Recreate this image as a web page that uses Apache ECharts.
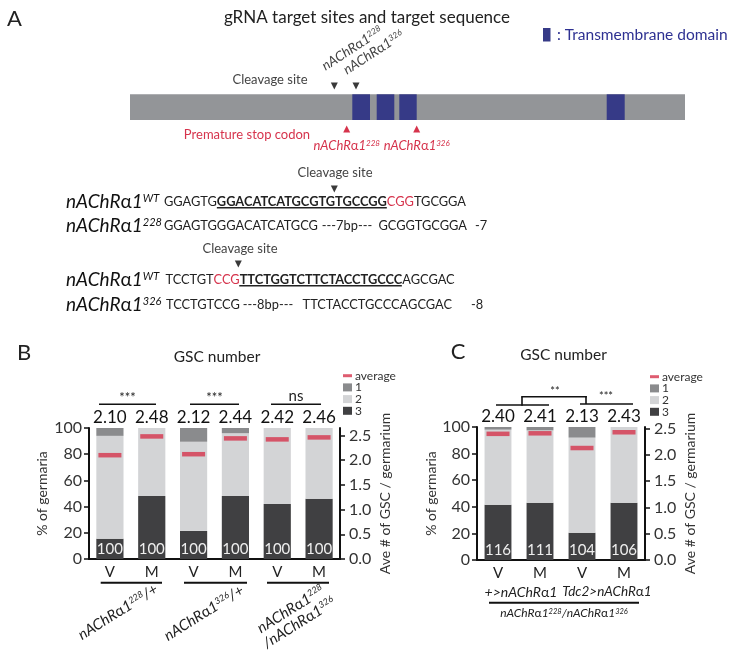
<!DOCTYPE html>
<html><head><meta charset="utf-8">
<script src="https://cdn.jsdelivr.net/npm/echarts@6/dist/echarts.min.js"></script>
<style>html,body{margin:0;padding:0;background:#fff}#c{width:730px;height:656px}</style>
</head><body><div id="c"></div>
<script>
// ---------- data ----------
// Panel B
const catsB = ['V', 'M', 'V', 'M', 'V', 'M'];
const gsc3B = [15.5, 48, 21.5, 48, 42, 46];     // % germaria with 3 GSC
const gsc2B = [78.5, 52, 68, 48, 58, 54];       // % with 2 GSC
const gsc1B = [6, 0, 10.5, 4, 0, 0];            // % with 1 GSC
const avgB  = [2.10, 2.48, 2.12, 2.44, 2.42, 2.46];
const nB    = [100, 100, 100, 100, 100, 100];
const sigB  = ['***', '***', 'ns'];
// Panel C
const catsC = ['V', 'M', 'V', 'M'];
const gsc3C = [41.5, 43, 20.5, 43];
const gsc2C = [56.5, 54.5, 71.5, 57];
const gsc1C = [2, 2.5, 8, 0];
const avgC  = [2.40, 2.41, 2.13, 2.43];
const nC    = [116, 111, 104, 106];
const sigC  = ['**', '***'];
const leftTicks  = [0, 20, 40, 60, 80, 100];
const rightTicks = [0, 0.5, 1, 1.5, 2, 2.5];
const legendNames = ['average', '1', '2', '3'];

// ---------- style ----------
const FONT = 'Lato, "Noto Sans", sans-serif';
const C1 = '#8a8b8d', C2 = '#d3d4d6', C3 = '#404042', RED = '#d6334c', INK = '#222', BLUE = '#363a87';

const chart = echarts.init(document.getElementById('c'), null, {renderer: 'canvas', width: 730, height: 656});

const G = [];
function txt(x, y, text, st, rot) {
  G.push({type: 'text', x: x, y: y, rotation: rot || 0, silent: true,
    style: Object.assign({text: text, fontFamily: FONT, fontSize: 14, fill: INK, align: 'center', verticalAlign: 'middle'}, st || {})});
}
function line(x1, y1, x2, y2, w, c) {
  G.push({type: 'line', silent: true, shape: {x1: x1, y1: y1, x2: x2, y2: y2}, style: {stroke: c || '#111', lineWidth: w || 1.5}});
}
function poly(points, c) {
  G.push({type: 'polygon', silent: true, shape: {points: points}, style: {fill: c}});
}
function rect(x, y, w, h, c) {
  G.push({type: 'rect', silent: true, shape: {x: x, y: y, width: w, height: h}, style: {fill: c}});
}
function triDown(x, y, s, c) { poly([[x - s / 2, y - s / 2], [x + s / 2, y - s / 2], [x, y + s / 2]], c); }
function triUp(x, y, s, c) { poly([[x, y - s / 2], [x - s / 2, y + s / 2], [x + s / 2, y + s / 2]], c); }

function richStyles(size, sup, color) {
  return {
    i: {fontStyle: 'italic', fontSize: size, fontFamily: FONT, fill: color},
    a: {fontStyle: 'normal', fontSize: size, fontFamily: FONT, fill: color},
    s: {fontStyle: 'italic', fontSize: sup, fontFamily: FONT, fill: color, verticalAlign: 'top'}
  };
}
function gene(sup, pre, post) {
  return (pre ? '{i|' + pre + '}' : '') + '{i|nAChR}{a|α}{i|1}' + (sup ? '{s|' + sup + '}' : '') + (post ? '{i|' + post + '}' : '');
}

// ---------- Panel A ----------
txt(7, 19, 'A', {fontSize: 22, align: 'left'});
txt(367, 18, 'gRNA target sites and target sequence', {fontSize: 17});
rect(543, 28, 7.5, 13.5, BLUE);
txt(557, 35, ': Transmembrane domain', {fontSize: 15.5, fill: '#2e3192', align: 'left'});
rect(130, 94.3, 555, 25.7, '#939598');
[[352.3, 370], [376.7, 394.3], [399.3, 416.7], [606.7, 624.7]].forEach(d => rect(d[0], 94.3, d[1] - d[0], 25.7, BLUE));
txt(270, 80, 'Cleavage site', {fontSize: 13, fill: '#444'});
triDown(334.3, 86, 7, '#3a3a3a');
triDown(356, 86, 7, '#3a3a3a');
txt(327, 73, gene('228'), {align: 'left', verticalAlign: 'bottom', rich: richStyles(13.5, 8.5, '#444')}, 33 * Math.PI / 180);
txt(348.5, 77, gene('326'), {align: 'left', verticalAlign: 'bottom', rich: richStyles(13.5, 8.5, '#444')}, 33 * Math.PI / 180);
triUp(346.7, 129, 7, RED);
triUp(416.7, 129, 7, RED);
txt(247, 135, 'Premature stop codon', {fontSize: 13, fill: RED});
txt(346.7, 146, gene('228'), {rich: richStyles(13, 8, RED)});
txt(416.7, 146, gene('326'), {rich: richStyles(13, 8, RED)});

// sequences: each row is one rich text; underline is a second rich text whose
// transparent tokens reproduce the same advance, with a thin background bar under the gRNA.
const SEQ = 12.8;
const seqRich = {
  n: {fontSize: SEQ, fontFamily: FONT, fill: INK},
  b: {fontSize: SEQ, fontFamily: FONT, fill: INK, fontWeight: 'bold'},
  r: {fontSize: SEQ, fontFamily: FONT, fill: RED},
  t: {fontSize: SEQ, fontFamily: FONT, fill: 'rgba(0,0,0,0)', lineHeight: 13},
  u: {fontSize: SEQ, fontFamily: FONT, fontWeight: 'bold', fill: 'rgba(0,0,0,0)', backgroundColor: '#222',
      height: 1.4, lineHeight: 1.4, verticalAlign: 'bottom'}
};
function seq(x, y, rich, align) {
  G.push({type: 'text', x: x, y: y, silent: true,
    style: {text: rich, rich: seqRich, fontFamily: FONT, fontSize: SEQ, fill: INK, align: align || 'left', verticalAlign: 'middle'}});
}
txt(335, 173, 'Cleavage site', {fontSize: 13, fill: '#444'});
triDown(334.3, 189, 7, '#3a3a3a');
txt(66, 202, gene('WT'), {align: 'left', rich: richStyles(19, 11, '#111')});
seq(164, 202, '{n|GGAGTG}{b|GGACATCATGCGTGTGCCGG}{r|CGG}{n|TGCGGA}');
seq(164, 202, '{t|GGAGTG}{u|GGACATCATGCGTGTGCCGG}');
txt(66, 226, gene('228'), {align: 'left', rich: richStyles(19, 11, '#111')});
seq(164, 226, '{n|GGAGTGGGACATCATGCG}');
seq(347, 226, '{n|---7bp---}', 'center');
seq(467, 226, '{n|GCGGTGCGGA}', 'right');
seq(475, 226, '{n|-7}');

txt(240, 249, 'Cleavage site', {fontSize: 13, fill: '#444'});
triDown(238.3, 264, 7, '#3a3a3a');
txt(66, 280, gene('WT'), {align: 'left', rich: richStyles(19, 11, '#111')});
seq(165.5, 280, '{n|TCCTGT}{r|CCG}{b|TTCTGGTCTTCTACCTGCCC}{n|AGCGAC}');
seq(165.5, 280, '{t|TCCTGTCCG}{u|TTCTGGTCTTCTACCTGCCC}');
txt(66, 305, gene('326'), {align: 'left', rich: richStyles(19, 11, '#111')});
seq(166, 305, '{n|TCCTGTCCG}');
seq(268, 305, '{n|---8bp---}', 'center');
seq(452, 305, '{n|TTCTACCTGCCCAGCGAC}', 'right');
seq(471, 305, '{n|-8}');

// ---------- Panel B / C decorations ----------
txt(24, 353, 'B', {fontSize: 22});
txt(217, 357, 'GSC number', {fontSize: 15.5});
[[99, 156, 127.5], [190, 239, 214.5], [271, 321, 296]].forEach((s, i) => {
  line(s[0], 404.3, s[1], 404.3, 1.6);
  txt(s[2], sigB[i] === 'ns' ? 396 : 398, sigB[i], {fontSize: sigB[i] === 'ns' ? 15 : 13});
});
[[100.7, 162], [184, 247], [267, 329]].forEach(s => line(s[0], 582.7, s[1], 582.7, 2));
const rot = 32 * Math.PI / 180;
txt(118, 612, gene('228', '', '/+'), {rich: richStyles(15, 9, INK)}, rot);
txt(204, 613, gene('326', '', '/+'), {rich: richStyles(15, 9, INK)}, rot);
txt(295, 616, gene('228') + '\n' + gene('326', '/'), {rich: richStyles(15, 9, INK), lineHeight: 16}, rot);

txt(458, 352, 'C', {fontSize: 22});
txt(563.5, 355, 'GSC number', {fontSize: 15.5});
line(496, 405, 549, 405, 1.6);
line(522, 405.8, 522, 396.7, 1.6);
line(521.2, 396.7, 586.8, 396.7, 1.6);
line(586, 396, 586, 404, 1.6);
line(580, 404, 633, 404, 1.6);
txt(555, 391, sigC[0], {fontSize: 11});
txt(606, 396, sigC[1], {fontSize: 11});
txt(521, 592, '{i|+>nAChR}{a|α}{i|1}', {rich: richStyles(14, 9, INK)});
txt(607, 592, '{i|Tdc2>nAChR}{a|α}{i|1}', {rich: richStyles(13.5, 9, INK)});
line(489, 602.7, 639, 602.7, 2);
txt(564, 613.5, gene('228') + gene('326', '/'), {rich: richStyles(12, 7.5, INK)});

// ---------- axes ----------
function leftAxis(gi, gap) {
  return {gridIndex: gi, type: 'value', min: 0, max: 100, interval: 20,
    axisLine: {show: true, lineStyle: {color: '#111', width: 2}},
    axisTick: {show: true, length: 5, lineStyle: {color: '#111', width: 1.5}},
    axisLabel: {color: '#333', fontSize: 16, margin: 7, fontFamily: FONT},
    splitLine: {show: false},
    name: '% of germaria', nameLocation: 'middle', nameGap: gap,
    nameTextStyle: {fontSize: 14, color: '#333', fontFamily: FONT}};
}
function rightAxis(gi, max, gap) {
  return {gridIndex: gi, type: 'value', position: 'right', min: 0, max: max,
    axisLine: {show: true, lineStyle: {color: '#111', width: 2}},
    axisTick: {show: true, length: 5, customValues: rightTicks, lineStyle: {color: '#111', width: 1.5}},
    axisLabel: {color: '#333', fontSize: 16, margin: 9, fontFamily: FONT, customValues: rightTicks,
      formatter: v => (Math.abs(v * 2 - Math.round(v * 2)) < 1e-6 ? v.toFixed(1) : '')},
    splitLine: {show: false},
    name: 'Ave # of GSC / germarium', nameLocation: 'middle', nameGap: gap,
    nameTextStyle: {fontSize: 14, color: '#333', fontFamily: FONT}};
}
function catAxis(gi, data) {
  return {gridIndex: gi, type: 'category', data: data,
    axisLine: {show: true, lineStyle: {color: '#111', width: 2}},
    axisTick: {show: false},
    axisLabel: {color: INK, fontSize: 15, margin: 6, fontFamily: FONT}};
}
function stackSeries(xi, yi, stack, d3, d2, d1, avg, n, yRight, bw) {
  const base = {type: 'bar', xAxisIndex: xi, yAxisIndex: yi, stack: stack, barWidth: bw};
  return [
    Object.assign({}, base, {name: '3', data: d3, itemStyle: {color: C3},
      label: {show: true, position: 'insideBottom', distance: 2, color: '#eee', fontSize: 15, fontFamily: FONT,
        formatter: p => String(n[p.dataIndex])}}),
    Object.assign({}, base, {name: '2', data: d2, itemStyle: {color: C2}}),
    Object.assign({}, base, {name: '1', data: d1, itemStyle: {color: C1},
      label: {show: true, position: 'top', distance: 2, color: '#111', fontSize: 17, fontFamily: FONT,
        formatter: p => avg[p.dataIndex].toFixed(2)}}),
    {name: 'average', type: 'scatter', xAxisIndex: xi, yAxisIndex: yRight, data: avg, symbol: 'rect',
      symbolSize: [23, 4.5], itemStyle: {color: RED}, z: 5}
  ];
}
function legend(left, top) {
  return {left: left, top: top, padding: 0, orient: 'vertical', selectedMode: false, itemWidth: 9, itemHeight: 8, itemGap: -0.3,
    textStyle: {fontSize: 12, color: '#333', fontFamily: FONT, padding: [0, 0, 0, -2]},
    data: legendNames.map(nm => ({name: nm, icon: nm === 'average' ? 'path://M0,0H12V4H0Z' : 'rect'}))};
}

chart.setOption({
  animation: false,
  backgroundColor: '#fff',
  textStyle: {fontFamily: FONT},
  grid: [
    {left: 89, top: 428, width: 251, height: 131},
    {left: 477, top: 427, width: 168, height: 133}
  ],
  legend: [legend(343, 369.7), legend(650, 370.7)],
  xAxis: [catAxis(0, catsB), catAxis(1, catsC)],
  yAxis: [leftAxis(0, 40), rightAxis(0, 2.65, 38), leftAxis(1, 37), rightAxis(1, 2.53, 38)],
  series: [].concat(
    stackSeries(0, 0, 'B', gsc3B, gsc2B, gsc1B, avgB, nB, 1, '65%'),
    stackSeries(1, 2, 'C', gsc3C, gsc2C, gsc1C, avgC, nC, 3, '64%')
  ),
  graphic: G
});
</script>
</body></html>
